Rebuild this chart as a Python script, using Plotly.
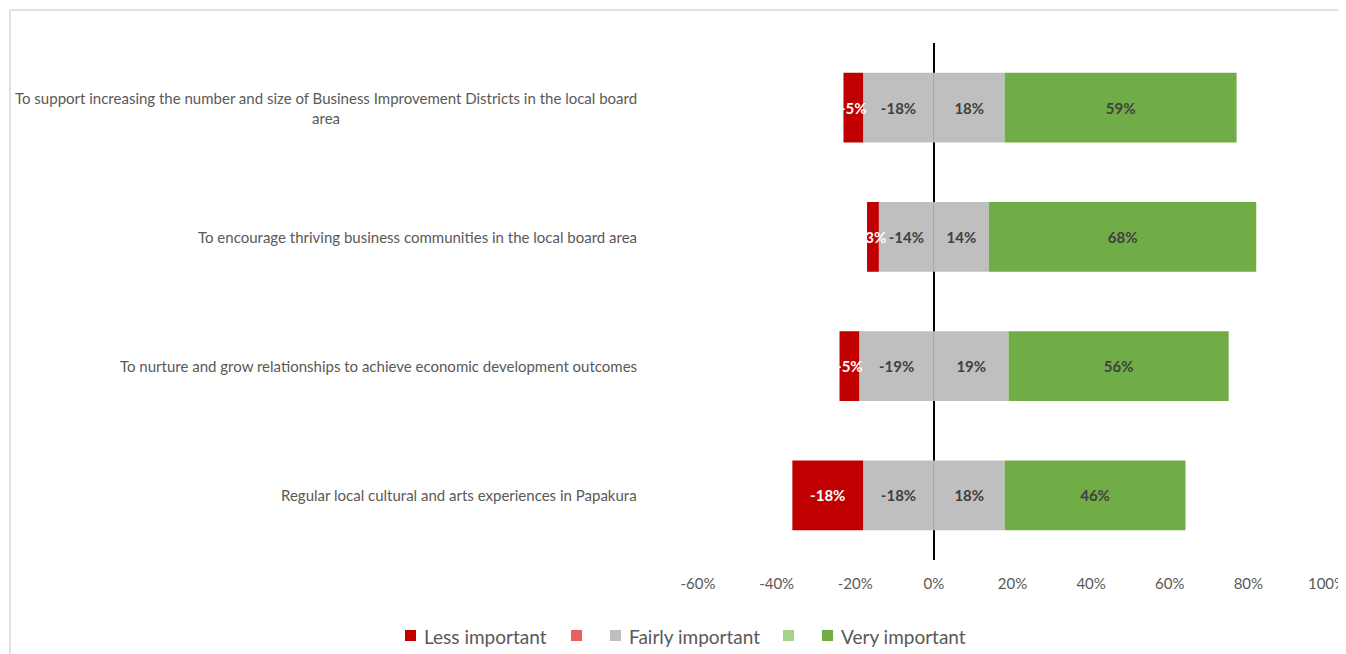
import plotly.graph_objects as go

categories = [
    "To support increasing the number and size of Business Improvement Districts in the local board<br>area",
    "To encourage thriving business communities in the local board area",
    "To nurture and grow relationships to achieve economic development outcomes",
    "Regular local cultural and arts experiences in Papakura",
]
less_important = [-5, -3, -5, -18]
light_red = [0, 0, 0, 0]
fairly_neg = [-18, -14, -19, -18]
fairly_pos = [18, 14, 19, 18]
light_green = [0, 0, 0, 0]
very_important = [59, 68, 56, 46]
x_ticks = [-60, -40, -20, 0, 20, 40, 60, 80, 100]
legend_names = ["Less important", "", "Fairly important", "", "Very important"]

FONT = "Lato"
C_LESS = "#C00000"
C_LRED = "#E86060"
C_GRAY = "#BFBFBF"
C_LGREEN = "#A9D18E"
C_GREEN = "#70AD47"
legend_colors = [C_LESS, C_LRED, C_GRAY, C_LGREEN, C_GREEN]
TXT_DARK = "#404040"
TXT_GRAY = "#595959"

ys = list(range(len(categories)))

def lab(vals):
    return [f"{v}%" for v in vals]

fig = go.Figure()

def add(vals, color, text=None, tcolor=TXT_DARK):
    fig.add_trace(go.Bar(
        y=ys, x=vals, orientation="h", marker=dict(color=color, line=dict(width=0)),
        showlegend=False,
        text=text, textposition="inside" if text else "none",
        insidetextanchor="middle", textangle=0,
        textfont=dict(family=FONT, size=15, color=tcolor, weight="bold"),
        hoverinfo="skip",
    ))

# stacking: first trace nearest zero
add(fairly_neg, C_GRAY, lab(fairly_neg), TXT_DARK)
add(fairly_pos, C_GRAY, lab(fairly_pos), TXT_DARK)
add(light_red, C_LRED)
add(light_green, C_LGREEN)
add(less_important, C_LESS, lab(less_important), "white")
add(very_important, C_GREEN, lab(very_important), TXT_DARK)

# page has 8px body margin
OFF = 8
W, H = 1346 - OFF, 654 - OFF
ML, MR, MT, MB = 698 - OFF, W - (1327 - OFF), 43 - OFF, H - (560 - OFF)
pw = W - ML - MR
ph = H - MT - MB

def px(X):
    return (X - OFF - ML) / pw

def py(Y):
    return ((H - MB) - (Y - OFF)) / ph

annotations = []
for i, c in enumerate(categories):
    annotations.append(dict(
        x=px(639), xref="paper", y=i, yref="y",
        text=c, showarrow=False, xanchor="right", yanchor="middle", align="center",
        font=dict(family=FONT, size=15, color=TXT_GRAY),
    ))

# manual legend
legend_sq_x = [405, 571, 610, 783, 822]
shapes = [dict(
    type="rect", xref="paper", yref="paper",
    x0=px(10), x1=1.3, y0=-0.5, y1=py(10),
    line=dict(color="#D9D9D9", width=1.5), fillcolor="rgba(0,0,0,0)", layer="below",
)]
for name, col, sx in zip(legend_names, legend_colors, legend_sq_x):
    shapes.append(dict(
        type="rect", xref="paper", yref="paper",
        x0=px(sx), x1=px(sx + 11), y0=py(641), y1=py(630),
        line=dict(width=0), fillcolor=col,
    ))
    if name:
        annotations.append(dict(
            x=px(sx + 17), xref="paper", y=py(636), yref="paper",
            text=name, showarrow=False, xanchor="left", yanchor="middle",
            font=dict(family=FONT, size=19, color=TXT_GRAY),
        ))

fig.update_layout(
    width=W, height=H,
    margin=dict(l=ML, r=MR, t=MT, b=MB, pad=0, autoexpand=False),
    barmode="relative",
    bargap=0.46,
    plot_bgcolor="white", paper_bgcolor="white",
    uniformtext=dict(mode="show", minsize=15),
    showlegend=False,
    xaxis=dict(
        range=[-60, 100], tickvals=x_ticks, ticktext=[f"{v}%" for v in x_ticks],
        showgrid=False, zeroline=True, zerolinecolor="black", zerolinewidth=1.5,
        showline=False, ticks="outside", ticklen=10, tickcolor="rgba(0,0,0,0)",
        tickfont=dict(family=FONT, size=15, color=TXT_GRAY),
        ticklabeloverflow="allow",
        layer="above traces", fixedrange=True, automargin=False,
    ),
    yaxis=dict(
        range=[3.5, -0.5], showticklabels=False, showgrid=False, zeroline=False,
        showline=False, fixedrange=True, automargin=False,
    ),
    annotations=annotations,
    shapes=shapes,
)

fig.write_html("out.html")
